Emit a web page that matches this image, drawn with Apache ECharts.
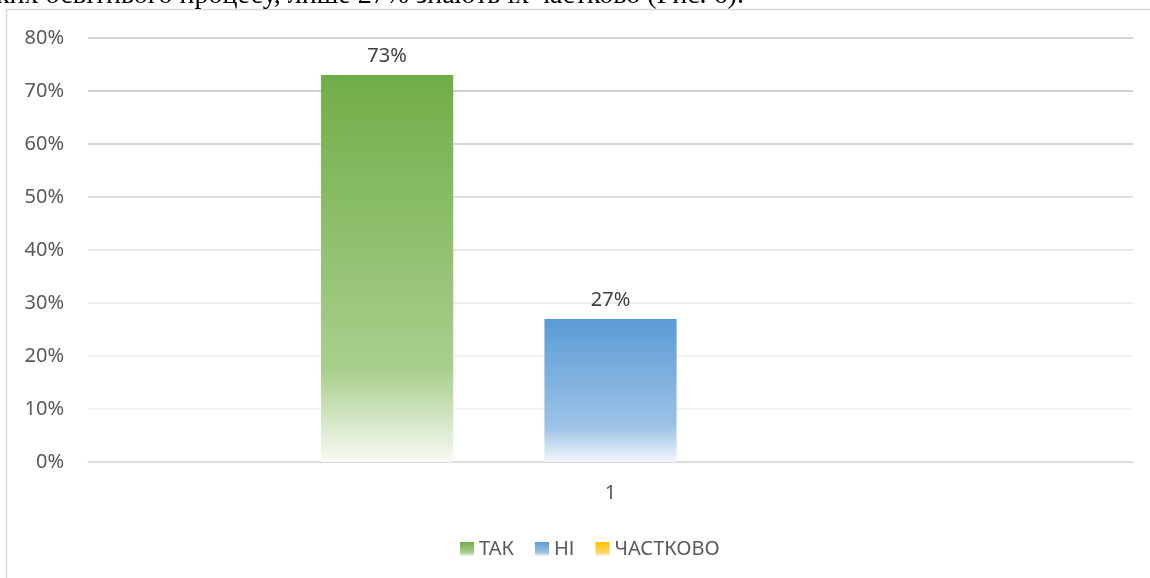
<!DOCTYPE html>
<html><head><meta charset="utf-8">
<script src="https://cdn.jsdelivr.net/npm/echarts@6/dist/echarts.min.js"></script>
<style>html,body{margin:0;padding:0;background:#fff}#c{width:1150px;height:578px}</style>
</head><body><div id="c"></div>
<script>
const categories = ['1'];
const seriesNames = ['ТАК', 'НІ', 'ЧАСТКОВО'];
const takValues = [73];
const niValues = [27];
const chastkovoValues = [0];
const yTicks = [0, 10, 20, 30, 40, 50, 60, 70, 80];
const topText = 'ких освітнього процесу, лише 27% знають їх частково (Рис. 6).';

function grad(c0, c1, c2) {
  return new echarts.graphic.LinearGradient(0, 0, 0, 1, [
    {offset: 0, color: c0}, {offset: 0.76, color: c1}, {offset: 1, color: c2}
  ]);
}
const font = 'Noto Sans';
const fs = 20;
const chart = echarts.init(document.getElementById('c'));
const mk = (name, data, g) => ({
  name, type: 'bar', data, barGap: '69%', barCategoryGap: '44.6%',
  itemStyle: {color: g},
  label: {show: data[0] > 0, position: 'top', distance: 9, formatter: '{c}%', color: '#404040', fontSize: fs, fontFamily: font},
  emphasis: {disabled: true}
});
chart.setOption({
  animation: false,
  textStyle: {fontFamily: font},
  graphic: [
    {type: 'rect', shape: {x: 6.5, y: 9.5, width: 1300, height: 700}, style: {fill: null, stroke: '#d9d9d9', lineWidth: 1.5}, silent: true},
    {type: 'text', left: -4, top: -18, style: {text: topText, font: '28px "Liberation Serif"', fill: '#000'}, silent: true}
  ],
  legend: {
    top: 534, left: 455, itemWidth: 14, itemHeight: 14, itemGap: 21, itemTextGap: 6,
    icon: 'rect',
    textStyle: {color: '#595959', fontSize: fs, fontFamily: font},
    data: seriesNames
  },
  grid: {left: 88, right: 17, top: 38, bottom: 116, containLabel: false},
  xAxis: {
    type: 'category', data: categories,
    axisLine: {lineStyle: {color: '#d9d9d9', width: 1.5}},
    axisTick: {show: false},
    axisLabel: {color: '#595959', fontSize: fs, margin: 21, fontFamily: font}
  },
  yAxis: {
    type: 'value', min: 0, max: 80, interval: 10,
    axisLabel: {formatter: v => yTicks.includes(v) ? v + '%' : '', color: '#595959', fontSize: fs, margin: 24, fontFamily: font},
    axisLine: {show: false}, axisTick: {show: false},
    splitLine: {lineStyle: {color: ['#d9d9d9', '#f2f2f2', '#efefef', '#e8e8e8', '#dcdcdc', '#d3d3d3', '#cacaca', '#c3c3c3', '#c3c3c3'], width: 1.5}}
  },
  series: [
    mk(seriesNames[0], takValues, grad('#70ad47', '#a9cf8d', '#f7faf3')),
    mk(seriesNames[1], niValues, grad('#5b9bd5', '#9dc3e6', '#f3f7fc')),
    mk(seriesNames[2], chastkovoValues, grad('#ffc000', '#ffd966', '#fff8e0'))
  ]
});
</script></body></html>
